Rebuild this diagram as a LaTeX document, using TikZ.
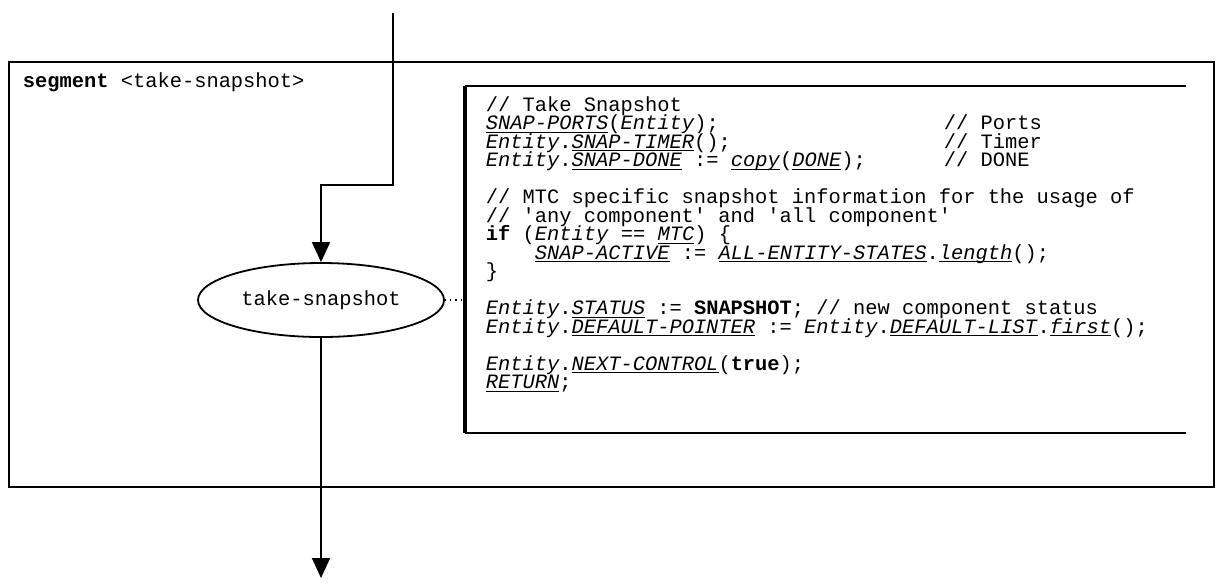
\documentclass[tikz,border=0pt]{standalone}
\usepackage{fontspec}
\setmonofont{Liberation Mono}
\usetikzlibrary{arrows.meta,shapes.geometric}
\newcommand{\tsId}[1]{\underline{\smash{\textit{#1}}}}
\newcommand{\tsCode}{\ttfamily\fontsize{10.2}{9.25}\selectfont}

\begin{document}
\begin{tikzpicture}[x=0.5pt,y=-0.5pt,line width=0.9pt,
  codeline/.style={anchor=base west, inner sep=0pt, font=\tsCode},
  flow/.style={-{Triangle[width=9pt,length=10pt]}}]
\useasboundingbox (0,0) rectangle (1224,585);
% segment frame
\draw (9,62) rectangle (1214,487);
\node[codeline] (seg) at (22,87) {\textbf{segment} <take-snapshot>};
% task symbol
\node[draw, ellipse, minimum width=123pt, minimum height=37pt, inner sep=0pt, font=\tsCode] (snap) at (321,300) {take-snapshot};
\coordinate (in) at (393,13);
\coordinate (bend) at (393,185);
\coordinate (out) at (321,578);
\draw[flow] (in) -- (bend) -| (snap.north);
\draw[flow] (snap.south) -- (out);
% text extension
\coordinate (tl) at (465,86);
\coordinate (tr) at (1186,86);
\coordinate (bl) at (465,433);
\coordinate (br) at (1186,433);
\draw (tr) -- (tl);
\draw (bl) -- (br);
\draw[line width=1.8pt] (tl) -- (bl);
\draw[dotted, line width=0.6pt] (snap.east) -- (snap.east -| tl);
\node[codeline] (l1) at (485,111) {// Take Snapshot};
\node[codeline] (l2) at (485,129.5) {\tsId{SNAP-PORTS}(\textit{Entity});};
\node[codeline] (c2) at (943,129.5) {// Ports};
\node[codeline] (l3) at (485,148) {\textit{Entity}.\tsId{SNAP-TIMER}();};
\node[codeline] (c3) at (943,148) {// Timer};
\node[codeline] (l4) at (485,166.5) {\textit{Entity}.\tsId{SNAP-DONE} := \tsId{copy}(\tsId{DONE});};
\node[codeline] (c4) at (943,166.5) {// DONE};
\node[codeline] (l6) at (485,203.5) {// MTC specific snapshot information for the usage of};
\node[codeline] (l7) at (485,222) {// 'any component' and 'all component'};
\node[codeline] (l8) at (485,240.5) {\textbf{if} (\textit{Entity} == \tsId{MTC}) \{};
\node[codeline] (l9) at (485,259) {~~~~\tsId{SNAP-ACTIVE} := \tsId{ALL-ENTITY-STATES}.\tsId{length}();};
\node[codeline] (l10) at (485,277.5) {\}};
\node[codeline] (l12) at (485,314.5) {\textit{Entity}.\tsId{STATUS} := \textbf{SNAPSHOT}; // new component status};
\node[codeline] (l13) at (485,333) {\textit{Entity}.\tsId{DEFAULT-POINTER} := \textit{Entity}.\tsId{DEFAULT-LIST}.\tsId{first}();};
\node[codeline] (l15) at (485,370) {\textit{Entity}.\tsId{NEXT-CONTROL}(\textbf{true});};
\node[codeline] (l16) at (485,388.5) {\tsId{RETURN};};
\end{tikzpicture}
\end{document}
